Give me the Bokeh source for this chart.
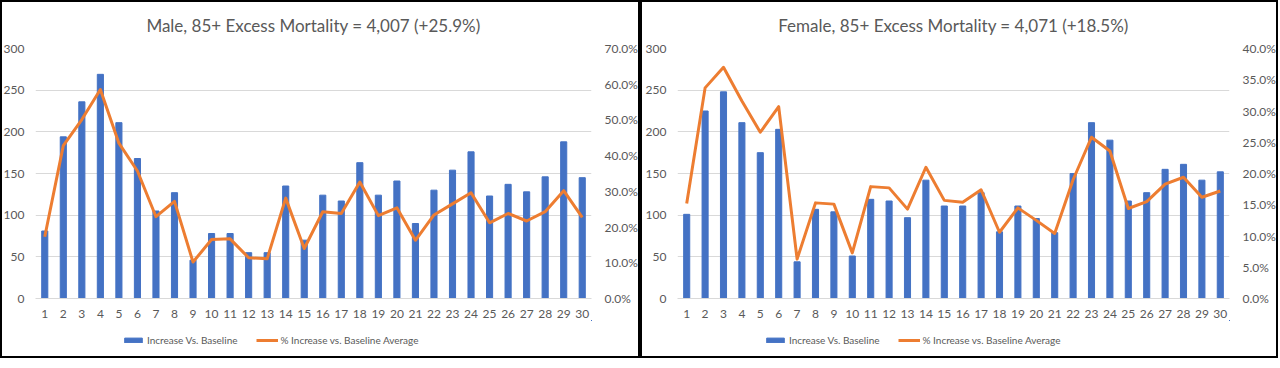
from bokeh.plotting import figure
from bokeh.models import (Range1d, LinearAxis, FixedTicker, NumeralTickFormatter,
                          Legend, LegendItem, ColumnDataSource)
from bokeh.layouts import row, column
from bokeh.embed import file_html
from bokeh.resources import INLINE

days = list(range(1, 31))

male_increase = [81, 194, 236, 269, 211, 168, 105, 127, 46, 78, 78, 55, 55, 135, 70,
                 124, 117, 163, 124, 141, 90, 130, 154, 176, 123, 137, 128, 146, 188, 145]
male_pct = [0.173, 0.428, 0.501, 0.585, 0.435, 0.357, 0.229, 0.272, 0.102, 0.165,
            0.167, 0.114, 0.111, 0.281, 0.140, 0.243, 0.238, 0.326, 0.232, 0.254,
            0.163, 0.234, 0.265, 0.296, 0.212, 0.238, 0.217, 0.243, 0.302, 0.227]

female_increase = [101, 225, 248, 211, 175, 203, 44, 107, 104, 51, 119, 117, 97, 142, 111,
                   111, 127, 80, 111, 96, 79, 150, 211, 190, 117, 127, 155, 161, 142, 152]
female_pct = [0.152, 0.337, 0.370, 0.316, 0.266, 0.307, 0.063, 0.153, 0.151, 0.073,
              0.179, 0.177, 0.143, 0.210, 0.157, 0.154, 0.174, 0.106, 0.145, 0.125,
              0.104, 0.190, 0.258, 0.236, 0.144, 0.155, 0.183, 0.194, 0.162, 0.172]

male_title = "Male, 85+ Excess Mortality = 4,007 (+25.9%)"
female_title = "Female, 85+ Excess Mortality = 4,071 (+18.5%)"
legend_labels = ["Increase Vs. Baseline", "% Increase vs. Baseline Average"]

left_ticks = [0, 50, 100, 150, 200, 250, 300]
male_right_ticks = [0.0, 0.1, 0.2, 0.3, 0.4, 0.5, 0.6, 0.7]
female_right_ticks = [0.0, 0.05, 0.10, 0.15, 0.20, 0.25, 0.30, 0.35, 0.40]

BAR = "#4472C4"
LINE = "#ED7D31"
TXT = "#595959"
GRID = "#d9d9d9"
FONT = "Lato"


def make_chart(src, title, rticks, width, left_border):
    p = figure(width=width, height=320, output_backend="svg", toolbar_location=None,
               x_range=Range1d(0.5, 30.5), y_range=Range1d(0, 300), title=title,
               min_border_top=40, min_border_left=left_border, min_border_right=0)
    p.extra_y_ranges = {"pct": Range1d(0, rticks[-1])}
    p.border_fill_color = None
    p.background_fill_color = None
    p.title.align = "center"
    p.title.text_font = FONT
    p.title.text_font_size = "17px"
    p.title.text_font_style = "normal"
    p.title.text_color = TXT
    p.title.standoff = 25
    p.outline_line_color = None

    p.vbar(x="x", top="inc", width=0.33, color=BAR, source=src)
    p.line(x="x", y="pct", y_range_name="pct", line_color=LINE, line_width=3,
           line_join="round", source=src)

    p.xgrid.grid_line_color = None
    p.ygrid.grid_line_color = GRID
    p.ygrid.ticker = FixedTicker(ticks=left_ticks)

    p.yaxis.ticker = FixedTicker(ticks=left_ticks)
    p.xaxis.ticker = FixedTicker(ticks=days)
    for ax in (p.xaxis[0], p.yaxis[0]):
        ax.major_tick_line_color = None
        ax.minor_tick_line_color = None
        ax.major_label_text_font = FONT
        ax.major_label_text_font_size = "12px"
        ax.major_label_text_color = TXT
    p.yaxis.axis_line_color = None
    p.xaxis.axis_line_color = GRID

    rax = LinearAxis(y_range_name="pct", ticker=FixedTicker(ticks=rticks),
                     formatter=NumeralTickFormatter(format="0.0%"))
    rax.axis_line_color = None
    rax.major_tick_line_color = None
    rax.minor_tick_line_color = None
    rax.major_label_text_font = FONT
    rax.major_label_text_font_size = "12px"
    rax.major_label_text_color = TXT
    rax.major_label_standoff = 7
    p.add_layout(rax, "right")
    return p


def make_legend(src, width, x0):
    # same data as the chart, drawn outside this strip's visible range; only the legend shows
    lf = figure(width=width, height=38, output_backend="svg", toolbar_location=None,
                x_axis_type=None, y_axis_type=None,
                x_range=Range1d(-2, -1), y_range=Range1d(-2, -1), min_border=0)
    lf.outline_line_color = None
    lf.border_fill_color = None
    lf.background_fill_color = None
    r1 = lf.vbar(x="x", top="inc", width=0.33, color=BAR, source=src)
    r2 = lf.line(x="x", y="pct", line_color=LINE, line_width=3, source=src)
    legend = Legend(items=[LegendItem(label=legend_labels[0], renderers=[r1]),
                           LegendItem(label=legend_labels[1], renderers=[r2])],
                    orientation="horizontal", location=(x0, 11))
    legend.border_line_color = None
    legend.background_fill_alpha = 0
    legend.label_text_font = FONT
    legend.label_text_font_size = "10px"
    legend.label_text_color = TXT
    legend.glyph_width = 22
    legend.glyph_height = 6
    legend.label_height = 14
    legend.label_standoff = 3
    legend.spacing = 18
    legend.padding = 0
    legend.margin = 0
    lf.add_layout(legend, "center")
    return lf


box = {"outline": "2px solid black", "outline-offset": "-2px", "background-color": "white"}
src_m = ColumnDataSource(dict(x=days, inc=male_increase, pct=male_pct))
src_f = ColumnDataSource(dict(x=days, inc=female_increase, pct=female_pct))
p1 = make_chart(src_m, male_title, male_right_ticks, 640, 5)
p2 = make_chart(src_f, female_title, female_right_ticks, 638, 37)
c1 = column(p1, make_legend(src_m, 640, 87), styles=box)
c2 = column(p2, make_legend(src_f, 638, 87), styles=box)
p = row(c1, c2)

open("out.html", "w").write(file_html(p, INLINE))
